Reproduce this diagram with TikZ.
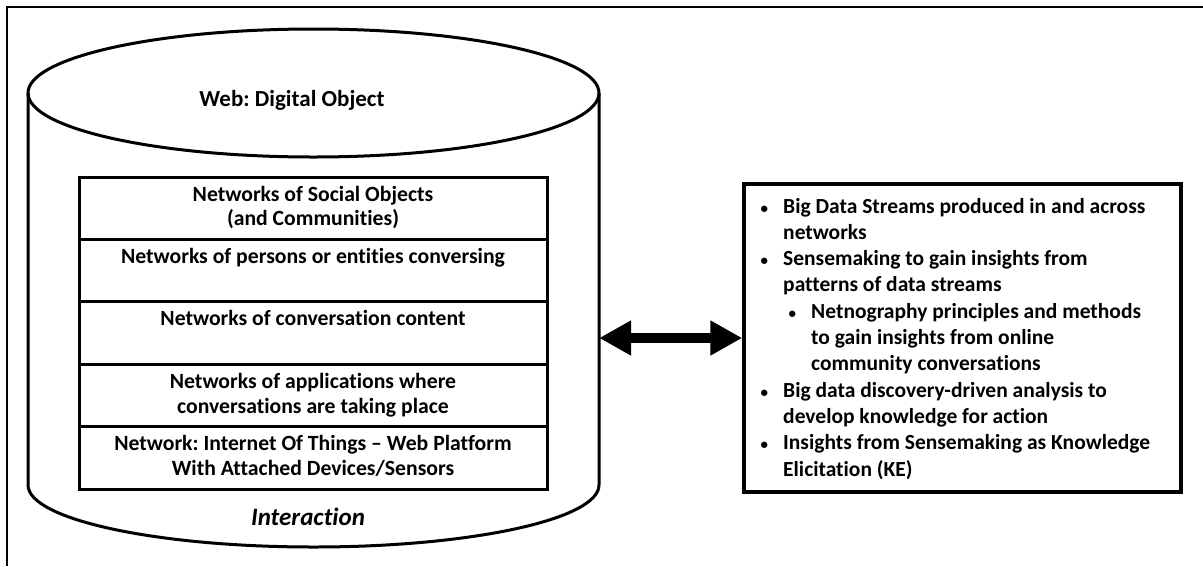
\documentclass[tikz,border=0pt]{standalone}
\usepackage{fontspec}
\setmainfont{Carlito}[Ligatures=NoCommon]
\usetikzlibrary{arrows.meta}
\frenchspacing

\tikzset{
  frame/.style={line width=1.5pt},
  drum/.style={line width=3pt},
  cell/.style={draw, line width=3pt, minimum width=468pt, inner sep=0pt},
  celltext/.style={anchor=base, align=center, inner sep=0pt,
    font=\bfseries\fontsize{21.7}{24.5}\selectfont},
  kbox/.style={draw, line width=3.5pt, minimum width=437pt, minimum height=308pt, inner sep=0pt},
  klist/.style={anchor=base west, align=left, inner sep=0pt,
    font=\bfseries\fontsize{21.5}{26.3}\selectfont},
  twoway/.style={line width=10pt,
    {Triangle[length=32pt,width=33pt]}-{Triangle[length=32pt,width=33pt]}}
}

\newcommand{\blt}{\llap{{\fontsize{15}{15}\selectfont •}\hspace{15pt}}}

\begin{document}
\begin{tikzpicture}[x=1pt,y=-1pt]
\useasboundingbox (0,0) rectangle (1203,566);

% surrounding frame, open to the right and bottom
\draw[frame] (7,566) -- (7,7) -- (1203,7);

% the drum: side walls, bottom curve and top ellipse
\draw[drum] (28,93) -- (28,485) arc[start angle=180, end angle=360, x radius=285.5pt, y radius=62pt] -- (599,93);
\draw[drum] (313.5,93) ellipse[x radius=285.5pt, y radius=64pt];
\node[inner sep=0pt, minimum width=571pt, minimum height=520pt] (web) at (313.5,289) {};

\node[font=\bfseries\fontsize{23}{26}\selectfont, inner sep=0pt] (webtitle) at (292,100) {Web: Digital Object};

% stacked network layers
\node[cell, minimum height=62pt, anchor=north] (c1) at (313,176) {};
\node[cell, minimum height=62pt, anchor=north] (c2) at (313,238) {};
\node[cell, minimum height=63pt, anchor=north] (c3) at (313,300) {};
\node[cell, minimum height=62pt, anchor=north] (c4) at (313,363) {};
\node[cell, minimum height=63pt, anchor=north] (c5) at (313,425) {};

% labels: the base anchor sits on the last line
\node[celltext] (t1) at (313,225.5) {Networks of Social Objects\\(and Communities)};
\node[celltext] (t2) at (313,263) {Networks of persons or entities conversing};
\node[celltext] (t3) at (313,325) {Networks of conversation content};
\node[celltext] (t4) at (313,413) {Networks of applications where\\conversations are taking place};
\node[celltext] (t5) at (313,475) {Network: Internet Of Things -- Web Platform\\With Attached Devices/Sensors};

\node[font=\bfseries\itshape\fontsize{25}{28}\selectfont, inner sep=0pt] (interact) at (308,517) {Interaction};

% knowledge box
\node[kbox] (kbox) at (962.5,338) {};
\node[klist] (ktext) at (783,476) {%
\blt Big Data Streams produced in and across\\
networks\\
\blt Sensemaking to gain insights from\\
patterns of data streams\\
\hspace*{28pt}\blt Netnography principles and methods\\
\hspace*{28pt}to gain insights from online\\
\hspace*{28pt}community conversations\\
\blt Big data discovery-driven analysis to\\
develop knowledge for action\\
\blt Insights from Sensemaking as Knowledge\\
Elicitation (KE)};

% two-way link
\draw[twoway] (web.east |- kbox.west) -- (kbox.west);
\end{tikzpicture}
\end{document}
